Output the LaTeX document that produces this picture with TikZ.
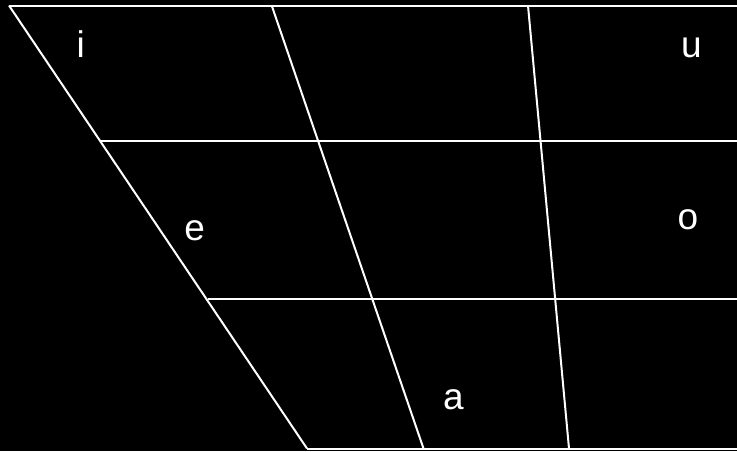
\documentclass[tikz,border=0pt]{standalone}
\usepackage{fontspec}
\setmainfont{Liberation Sans}
\begin{document}
\begin{tikzpicture}[x=1pt,y=-1pt,
  grid/.style={draw=white,line width=2pt},
  vowel/.style={text=white,inner sep=0pt,font=\fontsize{37}{40}\selectfont}]
\fill[black] (0,0) rectangle (737,451);
\useasboundingbox (0,0) rectangle (737,451);
% corners
\coordinate (tl) at (9,5.5);
\coordinate (tr) at (737,5.5);
\coordinate (m1t) at (271.7,5.5);
\coordinate (m2t) at (528,5.5);
\coordinate (bl) at (307,448.5);
\coordinate (br) at (737,448.5);
\coordinate (m1b) at (423.5,448.5);
\coordinate (m2b) at (569,448.5);
\coordinate (h1l) at (100.8,140.7);
\coordinate (h1r) at (737,140.7);
\coordinate (h2l) at (207.5,298.5);
\coordinate (h2r) at (737,298.5);
\draw[grid] (tl) -- (tr);
\draw[grid] (tl) -- (bl);
\draw[grid] (bl) -- (br);
\draw[grid] (m1t) -- (m1b);
\draw[grid] (m2t) -- (m2b);
\draw[grid] (h1l) -- (h1r);
\draw[grid] (h2l) -- (h2r);
\node[vowel] (i) at (80.7,44.3) {i};
\node[vowel] (u) at (691.3,47.5) {u};
\node[vowel] (e) at (194.7,230.8) {e};
\node[vowel] (o) at (688,220) {o};
\node[vowel] (a) at (453.3,400) {a};
\end{tikzpicture}
\end{document}
